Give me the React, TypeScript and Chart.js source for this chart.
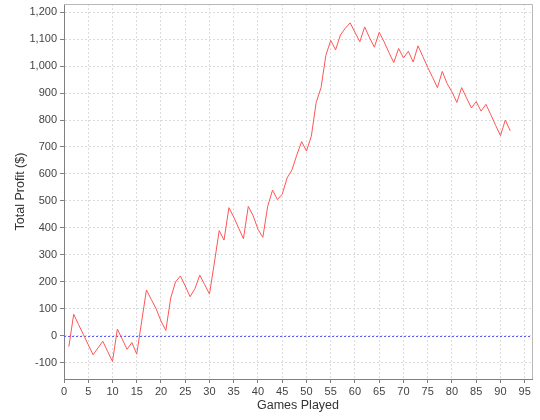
import { useEffect, useRef } from 'react';
import { Chart, registerables } from 'chart.js';

Chart.register(...registerables);

// Running total profit after each game
const PROFIT = [
  -40, 80, 42, 5, -33, -70, -45, -20, -58, -95,
  25, -12, -50, -25, -68, 52, 170, 135, 100, 55,
  20, 140, 200, 222, 185, 145, 175, 225, 190, 155,
  270, 390, 355, 475, 440, 400, 360, 480, 445, 395,
  365, 480, 540, 505, 525, 585, 615, 670, 720, 685,
  740, 865, 920, 1040, 1095, 1060, 1115, 1140, 1160, 1125,
  1090, 1145, 1105, 1070, 1125, 1090, 1050, 1013, 1065, 1030,
  1055, 1015, 1075, 1035, 995, 958, 920, 980, 935, 904,
  865, 920, 882, 845, 868, 833, 858, 820, 780, 742,
  800, 760,
];
const FIRST_GAME = 1;
const X_TICKS = [0, 5, 10, 15, 20, 25, 30, 35, 40, 45, 50, 55, 60, 65, 70, 75, 80, 85, 90, 95];
const Y_TICKS = [-100, 0, 100, 200, 300, 400, 500, 600, 700, 800, 900, 1000, 1100, 1200];
const X_MIN = 0;
const X_MAX = 96.5;
const Y_MIN = -160;
const Y_MAX = 1230;
const BASELINE = 0;

const TICK_FONT = { family: "'Liberation Sans Narrow', 'Liberation Sans', sans-serif", size: 11 };
const TITLE_FONT = { family: "'Liberation Sans', sans-serif", size: 12.5 };

// light frame on top/right and the blue zero line
const framePlugin = {
  id: 'frameAndBaseline',
  beforeDatasetsDraw(chart: Chart) {
    const { ctx, chartArea, scales } = chart;
    const { left, right, top } = chartArea;
    ctx.save();
    ctx.lineWidth = 1;
    ctx.strokeStyle = '#b8b8b8';
    ctx.beginPath();
    ctx.moveTo(Math.round(left), Math.round(top) + 0.5);
    ctx.lineTo(Math.round(right) + 0.5, Math.round(top) + 0.5);
    ctx.lineTo(Math.round(right) + 0.5, Math.round(chartArea.bottom));
    ctx.stroke();

    const y = Math.round(scales.y.getPixelForValue(BASELINE)) + 0.5;
    ctx.strokeStyle = '#5c5cff';
    ctx.setLineDash([2, 2]);
    ctx.beginPath();
    ctx.moveTo(left, y);
    ctx.lineTo(right, y);
    ctx.stroke();
    ctx.restore();
  },
};

export default function App() {
  const canvasRef = useRef<HTMLCanvasElement | null>(null);
  const chartRef = useRef<Chart | null>(null);

  useEffect(() => {
    if (!canvasRef.current) return;
    if (chartRef.current) chartRef.current.destroy();

    const points = PROFIT.map((v, i) => ({ x: FIRST_GAME + i, y: v }));

    chartRef.current = new Chart(canvasRef.current, {
      type: 'line',
      data: {
        datasets: [{
          data: points,
          borderColor: '#ff5555',
          borderWidth: 1,
          pointRadius: 0,
          tension: 0,
          fill: false,
        }],
      },
      options: {
        responsive: false,
        animation: false,
        locale: 'en-US',
        layout: { padding: { top: 4, right: 8, left: 0, bottom: 0 } },
        plugins: { legend: { display: false }, tooltip: { enabled: false } },
        scales: {
          x: {
            type: 'linear',
            min: X_MIN,
            max: X_MAX,
            afterBuildTicks: (s: any) => { s.ticks = X_TICKS.map(v => ({ value: v })); },
            afterFit: (s: any) => { s.height = 41; s.paddingLeft = 0; s.paddingRight = 0; },
            ticks: { color: '#444', font: TICK_FONT, padding: 2, maxRotation: 0, autoSkip: false },
            grid: { color: '#dcdcdc', tickColor: '#808080', tickLength: 4 },
            border: { color: '#808080', dash: [2, 2] },
            title: { display: true, text: 'Games Played', color: '#333', font: TITLE_FONT, padding: { top: 0, bottom: 7 } },
          },
          y: {
            type: 'linear',
            min: Y_MIN,
            max: Y_MAX,
            afterBuildTicks: (s: any) => { s.ticks = Y_TICKS.map(v => ({ value: v })); },
            afterFit: (s: any) => { s.width = 64; s.paddingTop = 0; s.paddingBottom = 0; },
            ticks: { color: '#444', font: TICK_FONT, padding: 3, autoSkip: false },
            grid: { color: '#dcdcdc', tickColor: '#808080', tickLength: 4 },
            border: { color: '#808080', dash: [2, 2] },
            title: { display: true, text: 'Total Profit ($)', color: '#333', font: TITLE_FONT, padding: { top: 13, bottom: 0 } },
          },
        },
      },
      plugins: [framePlugin],
    });

    return () => {
      if (chartRef.current) {
        chartRef.current.destroy();
        chartRef.current = null;
      }
    };
  }, []);

  return (
    <div style={{ position: 'absolute', left: 0, top: 0, width: 540, height: 420, background: '#fff' }}>
      <canvas ref={canvasRef} width={540} height={420} />
    </div>
  );
}
